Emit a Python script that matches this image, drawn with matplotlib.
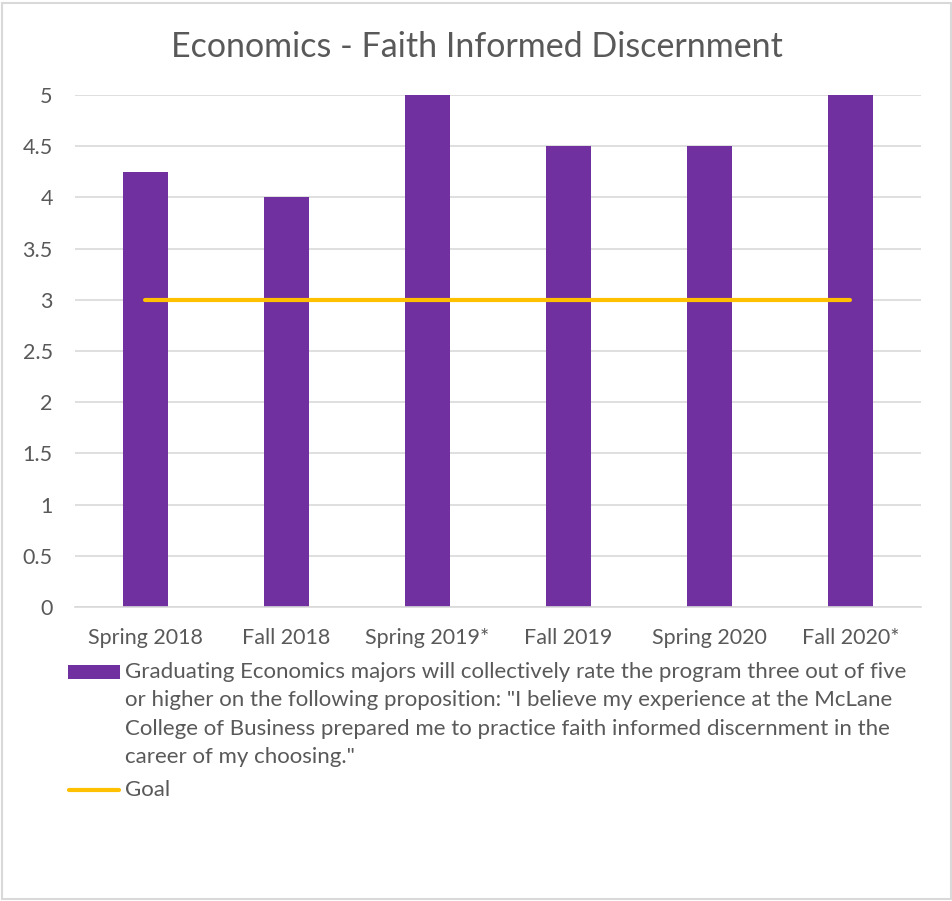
import matplotlib.pyplot as plt
from matplotlib.patches import Rectangle
from matplotlib.lines import Line2D
import numpy as np

plt.rcParams['font.family'] = ['Lato', 'DejaVu Sans']

# --- Data ---
terms = ['Spring 2018', 'Fall 2018', 'Spring 2019*', 'Fall 2019', 'Spring 2020', 'Fall 2020*']
ratings = [4.25, 4, 5, 4.5, 4.5, 5]
goal = [3, 3, 3, 3, 3, 3]
yticks = [0, 0.5, 1, 1.5, 2, 2.5, 3, 3.5, 4, 4.5, 5]
yticklabels = ['0', '0.5', '1', '1.5', '2', '2.5', '3', '3.5', '4', '4.5', '5']

bar_label = ('Graduating Economics majors will collectively rate the program three out of five\n'
             'or higher on the following proposition: "I believe my experience at the McLane\n'
             'College of Business prepared me to practice faith informed discernment in the\n'
             'career of my choosing."')
goal_label = 'Goal'

purple = '#7030A0'
gold = '#FFC000'
text_gray = '#595959'
grid_gray = '#D9D9D9'

W, H = 953, 901
fig = plt.figure(figsize=(W / 100, H / 100), dpi=100)
ax = fig.add_axes([0.0787, 0.3263, 0.8877, 0.5683])

x = np.arange(len(terms))
ax.bar(x, ratings, width=0.32, color=purple, zorder=2)
ax.plot(x, goal, color=gold, linewidth=3, solid_capstyle='round', zorder=3)

ax.set_xlim(-0.5, len(terms) - 0.5)
ax.set_ylim(0, 5)
ax.set_yticks(yticks)
ax.set_yticklabels(yticklabels)
ax.set_xticks(x)
ax.set_xticklabels(terms)
ax.tick_params(axis='both', length=0, labelsize=15.5, labelcolor=text_gray)
ax.tick_params(axis='y', pad=16)
ax.tick_params(axis='x', pad=15)
ax.yaxis.grid(True, color=grid_gray, linewidth=1.2, zorder=0)
ax.set_axisbelow(True)
for side in ['left', 'right', 'top']:
    ax.spines[side].set_visible(False)
ax.spines['bottom'].set_color(grid_gray)
ax.spines['bottom'].set_linewidth(1.2)

fig.text(0.5, 1 - 47 / H, 'Economics - Faith Informed Discernment', ha='center', va='center',
         fontsize=24.5, color=text_gray)

# legend below the plot, drawn by hand so the swatch sits on the first line
fig.patches.append(Rectangle((68 / W, 1 - 679 / H), 52 / W, 14 / H, transform=fig.transFigure,
                             facecolor=purple, edgecolor='none'))
fig.text(125 / W, 1 - 662 / H, bar_label, ha='left', va='top', fontsize=16,
         color=text_gray, linespacing=1.52)
fig.lines.append(Line2D([69 / W, 119 / W], [1 - 790 / H, 1 - 790 / H], transform=fig.transFigure,
                        color=gold, linewidth=3, solid_capstyle='round'))
fig.text(125 / W, 1 - 790 / H, goal_label, ha='left', va='center', fontsize=16, color=text_gray)

# chart border
fig.patches.append(Rectangle((0.002, 0.002), 0.996, 0.995, transform=fig.transFigure,
                             fill=False, edgecolor=grid_gray, linewidth=1.5))

fig.savefig('out.png', dpi=100)
